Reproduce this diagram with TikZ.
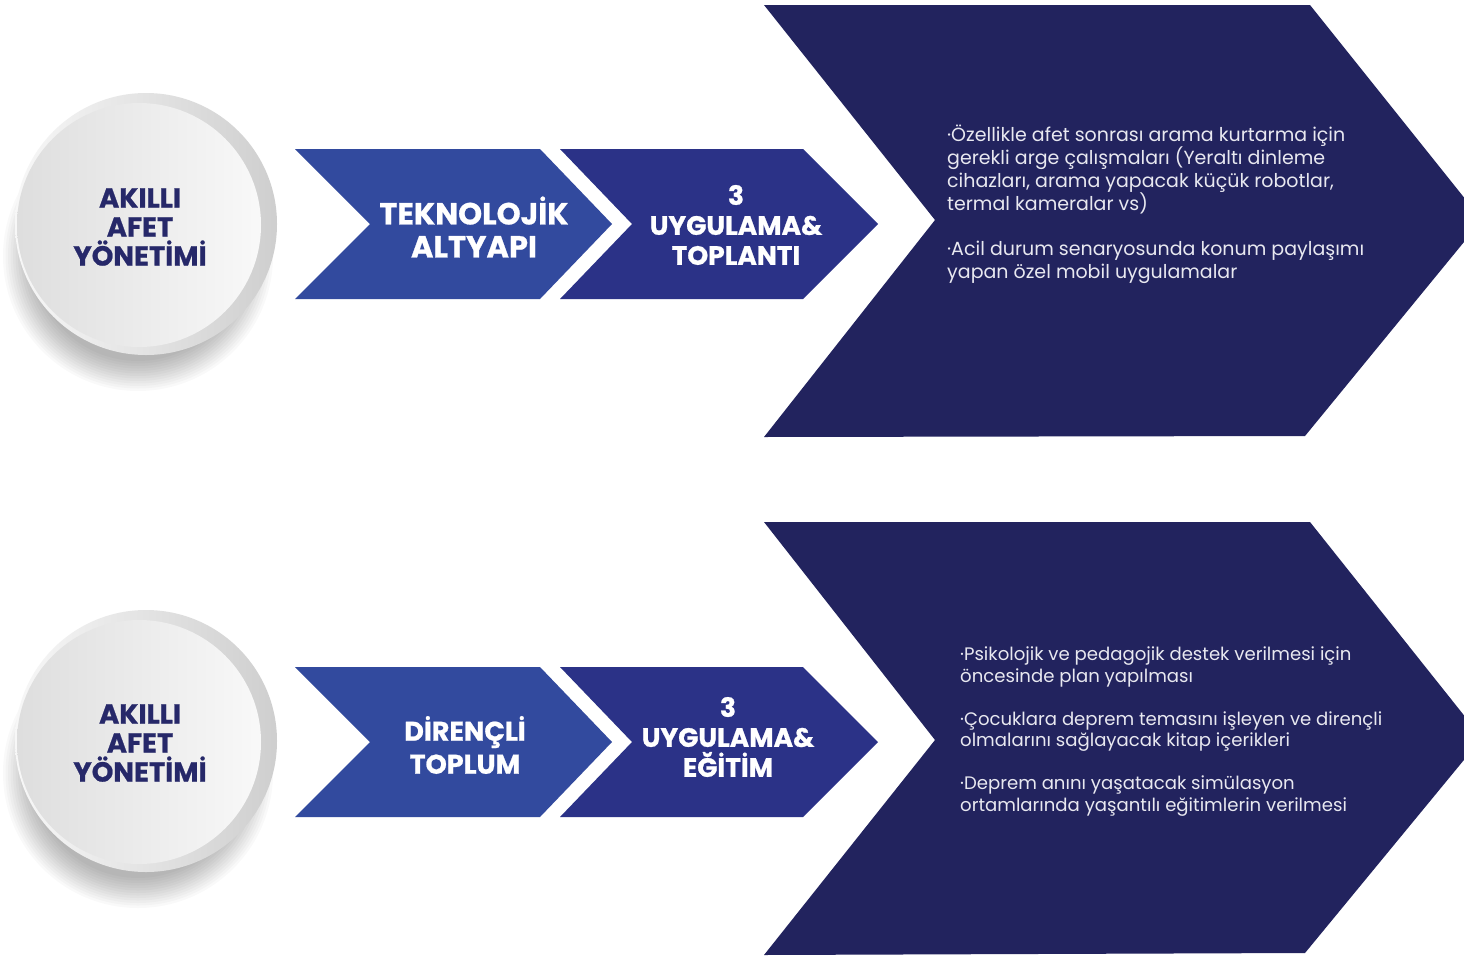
\documentclass[tikz,border=0pt]{standalone}
\usepackage{fontspec}
\setmainfont{Poppins}
\newfontfamily\heavyfont{Poppins}[BoldFeatures={FakeBold=0.8}]
\definecolor{navy}{RGB}{34,35,94}
\definecolor{chevAcol}{RGB}{50,74,158}
\definecolor{chevBcol}{RGB}{43,50,135}
\definecolor{circtext}{RGB}{38,40,105}
\definecolor{bodycol}{RGB}{232,232,240}
\tikzset{
  bigchev/.style={fill=navy},
  firstchev/.style={fill=chevAcol},
  secondchev/.style={fill=chevBcol},
  shadowlayer/.style={fill=black, fill opacity=0.022},
  ringdisc/.style={left color=white!94!gray, right color=gray!38},
  facedisc/.style={left color=gray!26, right color=gray!5},
  circlabel/.style={text=circtext, font=\heavyfont\bfseries\fontsize{27.5}{29}\selectfont, align=center, inner sep=0pt},
  chevlabel/.style={text=white, font=\heavyfont\bfseries\fontsize{27}{33}\selectfont, align=center, inner sep=0pt},
  chevlabelthree/.style={text=white, font=\heavyfont\bfseries\fontsize{26.5}{30}\selectfont, align=center, inner sep=0pt},
  bodytext/.style={text=bodycol, font=\fontsize{19}{23}\selectfont, align=left, anchor=north west, inner sep=0pt},
}
\begin{document}
\begin{tikzpicture}[x=1pt,y=-1pt]
\useasboundingbox (0,0) rectangle (1464,956);
\clip (0,0) rectangle (1464,956);
\fill[white] (0,0) rectangle (1464,956);

% ---------- top row ----------
\foreach \r in {135,132.5,...,105} {\fill[shadowlayer] (138,256) circle (\r pt);}
\path[ringdisc] (146,224) circle (131pt);
\path[facedisc] (139,225) circle (122pt);
\node[circlabel] (circA) at (140,227) {AKILLI\\AFET\\YÖNETİMİ};

\fill[firstchev] (295,149) -- (540,149) -- (612,224) -- (540,299) -- (295,299) -- (370,224) -- cycle;
\fill[secondchev] (560,149) -- (803,149) -- (878,224) -- (803,299) -- (560,299) -- (632,224) -- cycle;
\node[chevlabel, font=\heavyfont\bfseries\fontsize{30.5}{33}\selectfont] (techA) at (474,227) {TEKNOLOJİK\\ALTYAPI};
\node[chevlabelthree] (appA) at (736,225) {3\\UYGULAMA\&\\TOPLANTI};

\fill[bigchev] (764,5) -- (1310,5) -- (1482,220) -- (1305,436) -- (764,437) -- (935,220) -- cycle;
\node[bodytext] (bodyA) at (947,125) {·Özellikle afet sonrası arama kurtarma için\\
gerekli arge çalışmaları (Yeraltı dinleme\\
cihazları, arama yapacak küçük robotlar,\\
termal kameralar vs)\\[22pt]
·Acil durum senaryosunda konum paylaşımı\\
yapan özel mobil uygulamalar};

% ---------- bottom row ----------
\foreach \r in {135,132.5,...,105} {\fill[shadowlayer] (138,773) circle (\r pt);}
\path[ringdisc] (146,741) circle (131pt);
\path[facedisc] (139,742) circle (122pt);
\node[circlabel] (circB) at (140,743) {AKILLI\\AFET\\YÖNETİMİ};

\fill[firstchev] (295,667) -- (540,667) -- (612,742) -- (540,817) -- (295,817) -- (370,742) -- cycle;
\fill[secondchev] (560,667) -- (803,667) -- (878,742) -- (803,817) -- (560,817) -- (632,742) -- cycle;
\node[chevlabel] (techB) at (465,745) {DİRENÇLİ\\TOPLUM};
\node[chevlabelthree] (appB) at (728,737) {3\\UYGULAMA\&\\EĞİTİM};

\fill[bigchev] (764,522) -- (1310,522) -- (1482,738) -- (1305,953) -- (764,955) -- (935,740) -- cycle;
\node[bodytext, font=\fontsize{18.1}{21.5}\selectfont] (bodyB) at (960,647) {·Psikolojik ve pedagojik destek verilmesi için\\
öncesinde plan yapılması\\[21.5pt]
·Çocuklara deprem temasını işleyen ve dirençli\\
olmalarını sağlayacak kitap içerikleri\\[21.5pt]
·Deprem anını yaşatacak simülasyon\\
ortamlarında yaşantılı eğitimlerin verilmesi};
\end{tikzpicture}
\end{document}
